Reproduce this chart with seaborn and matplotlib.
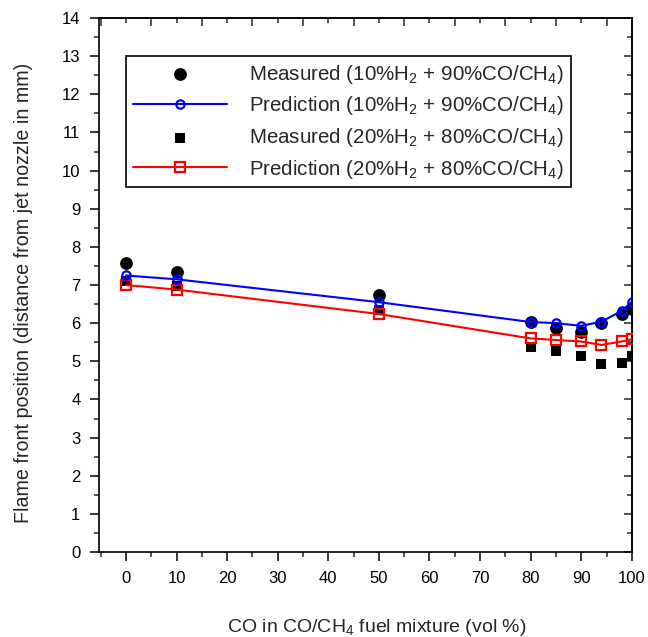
import numpy as np
import pandas as pd
import matplotlib
matplotlib.use("Agg")
import matplotlib.pyplot as plt
import seaborn as sns
from matplotlib.ticker import MultipleLocator, FixedLocator

# ---- data ----
co_pct = [0, 10, 50, 80, 85, 90, 94, 98, 100]
meas_10h2 = [7.58, 7.35, 6.74, 6.02, 5.87, 5.78, 6.01, 6.23, 6.38]
pred_10h2 = [7.25, 7.15, 6.55, 6.03, 6.00, 5.93, 6.04, 6.32, 6.56]
meas_20h2 = [7.10, 6.97, 6.35, 5.38, 5.28, 5.13, 4.93, 4.95, 5.15]
pred_20h2 = [7.00, 6.88, 6.24, 5.60, 5.56, 5.52, 5.43, 5.52, 5.58]

labels = [
    r"Measured (10%H$_2$ + 90%CO/CH$_4$)",
    r"Prediction (10%H$_2$ + 90%CO/CH$_4$)",
    r"Measured (20%H$_2$ + 80%CO/CH$_4$)",
    r"Prediction (20%H$_2$ + 80%CO/CH$_4$)",
]
x_ticks = [0, 10, 20, 30, 40, 50, 60, 70, 80, 90, 100]
y_ticks = list(range(0, 15))

sns.set_style("ticks")
plt.rcParams["font.family"] = ["Liberation Sans", "DejaVu Sans"]
plt.rcParams["mathtext.fontset"] = "custom"
plt.rcParams["mathtext.rm"] = "Liberation Sans"
plt.rcParams["mathtext.it"] = "Liberation Sans:italic"
plt.rcParams["mathtext.bf"] = "Liberation Sans:bold"

fig = plt.figure(figsize=(6.48, 6.37), dpi=100)
ax = fig.add_axes([0.153, 0.1334, 0.822, 0.8383])

df = pd.DataFrame({"x": co_pct, "m10": meas_10h2, "p10": pred_10h2,
                   "m20": meas_20h2, "p20": pred_20h2})

sns.scatterplot(data=df, x="x", y="m10", ax=ax, marker="o", s=85,
                color="black", edgecolor="black", linewidth=0, label=labels[0], zorder=2)
sns.lineplot(data=df, x="x", y="p10", ax=ax, color="blue", lw=1.5,
             marker="o", markersize=6, markerfacecolor="none",
             markeredgecolor="blue", markeredgewidth=1.6, label=labels[1], zorder=4)
sns.scatterplot(data=df, x="x", y="m20", ax=ax, marker="s", s=62,
                color="black", edgecolor="black", linewidth=0, label=labels[2], zorder=2)
sns.lineplot(data=df, x="x", y="p20", ax=ax, color="red", lw=1.5,
             marker="s", markersize=7.5, markerfacecolor="none",
             markeredgecolor="red", markeredgewidth=1.6, label=labels[3], zorder=3)

ax.set_xlim(-5.3, 100)
ax.set_ylim(0, 14)
ax.set_xticks(x_ticks)
ax.set_yticks(y_ticks)
ax.xaxis.set_minor_locator(MultipleLocator(5))
ax.yaxis.set_minor_locator(MultipleLocator(0.5))
ax.tick_params(axis="both", which="major", direction="out", length=6.5, width=1.1,
               labelsize=12, color="black", labelcolor="black")
ax.tick_params(axis="x", which="major", pad=7)
ax.tick_params(axis="y", which="major", pad=7)
ax.tick_params(axis="both", which="minor", direction="out", length=3.5, width=1.1)

for s in ax.spines.values():
    s.set_linewidth(1.2)
    s.set_color("black")

# top and right inward ticks
top = ax.secondary_xaxis("top")
top.set_xticks([-5, 5, 15, 25, 35, 45, 55, 65, 75, 85, 95])
top.xaxis.set_minor_locator(FixedLocator([0, 10, 20, 30, 40, 50, 60, 70, 80, 90]))
top.tick_params(which="major", direction="in", length=6, width=1.1, labeltop=False)
top.tick_params(which="minor", direction="in", length=3.5, width=1.1)
top.spines["top"].set_linewidth(1.2)
right = ax.secondary_yaxis("right")
right.set_yticks(y_ticks)
right.yaxis.set_minor_locator(MultipleLocator(0.5))
right.tick_params(which="major", direction="in", length=6, width=1.1, labelright=False)
right.tick_params(which="minor", direction="in", length=3.5, width=1.1)
right.spines["right"].set_linewidth(1.2)

ax.set_xlabel(r"CO in CO/CH$_4$ fuel mixture (vol %)", fontsize=14)
ax.set_ylabel("Flame front position (distance from jet nozzle in mm)", fontsize=14.2)
ax.xaxis.set_label_coords(0.522, -0.122)
ax.yaxis.set_label_coords(-0.125, 0.486)

handles, labs = ax.get_legend_handles_labels()
leg = ax.legend(handles, labs, loc="upper left", bbox_to_anchor=(0.0507, 0.929),
                fontsize=14.8, frameon=True, fancybox=False, edgecolor="black",
                framealpha=1, handlelength=4.6, handletextpad=1.05, labelspacing=0.42,
                borderpad=0.33, borderaxespad=0)
leg.get_frame().set_linewidth(1.2)

fig.savefig("out.png", dpi=100)
